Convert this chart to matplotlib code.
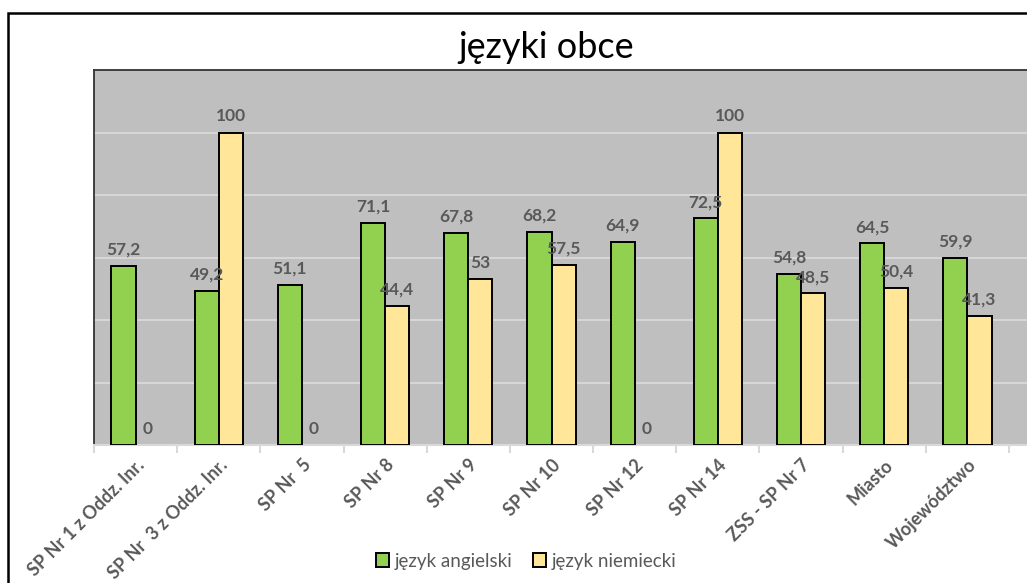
import numpy as np
import matplotlib
matplotlib.use("Agg")
import matplotlib.pyplot as plt
from matplotlib.patches import Rectangle, Patch

plt.rcParams["font.family"] = ["Lato", "DejaVu Sans"]

categories = ["SP Nr 1 z Oddz. Inr.", "SP Nr  3 z Oddz. Inr.", "SP Nr  5", "SP Nr 8",
              "SP Nr 9", "SP Nr 10", "SP Nr 12", "SP Nr 14", "ZSS - SP Nr 7",
              "Miasto", "Województwo"]
angielski = [57.2, 49.2, 51.1, 71.1, 67.8, 68.2, 64.9, 72.5, 54.8, 64.5, 59.9]
niemiecki = [0, 100, 0, 44.4, 53, 57.5, 0, 100, 48.5, 50.4, 41.3]

GREEN, YELLOW, BG, GRID, TXT = "#92D050", "#FFE699", "#BFBFBF", "#D9D9D9", "#595959"

fig = plt.figure(figsize=(10.27, 5.83), dpi=100)
# outer chart frame (screenshot is cropped on the right)
fig.patches.append(Rectangle((8/1027, -0.1), 1.2, 1 - 13/583 + 0.1, transform=fig.transFigure,
                             fill=False, ec="black", lw=1.8, zorder=0))

ax = fig.add_axes([94/1027, 1 - 445/583, 1 - 94/1027 + 0.002, (445 - 70)/583])
ax.set_facecolor(BG)

x = np.arange(len(categories))
w = 0.29
b1 = ax.bar(x - w/2, angielski, w, color=GREEN, edgecolor="black", zorder=3,
            linewidth=[1.4 if v else 0 for v in angielski])
b2 = ax.bar(x + w/2, niemiecki, w, color=YELLOW, edgecolor="black", zorder=3,
            linewidth=[1.4 if v else 0 for v in niemiecki])

fmt = lambda v: f"{v:g}".replace(".", ",")
for bars, vals in ((b1, angielski), (b2, niemiecki)):
    for r, v in zip(bars, vals):
        ax.annotate(fmt(v), (r.get_x() + r.get_width()/2, v), xytext=(0, 6),
                    textcoords="offset points", ha="center", va="bottom",
                    fontsize=12.5, fontweight="bold", color=TXT, zorder=4)

ax.set_ylim(0, 120)
ax.set_xlim(-0.5, 10.5 + 20/83)
ax.set_yticks([20, 40, 60, 80, 100])
ax.yaxis.grid(True, color=GRID, lw=1.3, zorder=1)
ax.tick_params(axis="y", left=False, labelleft=False)

ax.set_xticks(np.arange(-0.5, 11, 1), minor=False)
ax.set_xticklabels([])
ax.set_xticks(x, minor=True)
ax.set_xticklabels(categories, minor=True, rotation=45, ha="right", rotation_mode="anchor",
                   fontsize=13, fontweight="bold", color=TXT)
ax.tick_params(axis="x", which="major", length=6, color=GRID, width=1.5)
ax.tick_params(axis="x", which="minor", length=0, pad=8)

for s in ("top", "left"):
    ax.spines[s].set_color("#333333")
    ax.spines[s].set_linewidth(1.3)
ax.spines["right"].set_visible(False)
ax.spines["bottom"].set_color(GRID)
ax.spines["bottom"].set_linewidth(1.5)

fig.text(546/1027, 1 - 48/583, "języki obce", ha="center", va="center",
         fontsize=26, color="black")

handles = [Patch(fc=GREEN, ec="black", lw=1.4, label="język angielski"),
           Patch(fc=YELLOW, ec="black", lw=1.4, label="język niemiecki")]
fig.legend(handles=handles, loc="center", bbox_to_anchor=(526/1027, 1 - 561/583), ncol=2,
           frameon=False, fontsize=13.5, labelcolor=TXT, handlelength=0.7,
           handleheight=0.7, handletextpad=0.3, columnspacing=1.1)

fig.savefig("out.png", dpi=100)
